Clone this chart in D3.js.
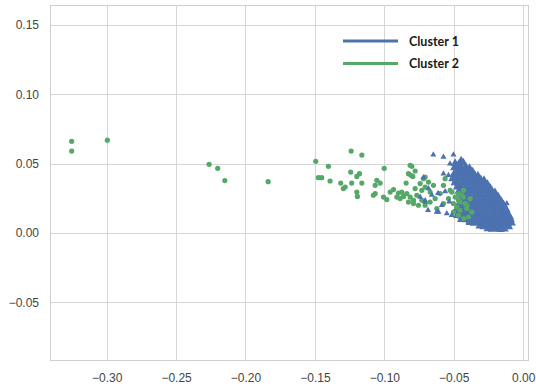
<!DOCTYPE html>
<html><head><meta charset="utf-8">
<script src="https://cdn.jsdelivr.net/npm/d3@7"></script>
<style>html,body{margin:0;padding:0;background:#fff;}svg{display:block;}</style>
</head><body>
<svg id="chart" width="536" height="387"></svg>
<script>
// ---- data ----
const xTicks = [-0.30, -0.25, -0.20, -0.15, -0.10, -0.05, 0.00];
const yTicks = [-0.05, 0.00, 0.05, 0.10, 0.15];
const xDomain = [-0.3408, 0.0042];
const yDomain = [-0.0923, 0.1644];
const seriesNames = ["Cluster 1", "Cluster 2"];
const seriesColors = ["#4c72b0", "#55a868"];

// Cluster 1 (blue triangles) – dense core
const cluster1Core = [
[-0.0490,0.0502],[-0.0462,0.0497],[-0.0431,0.0505],[-0.0447,0.0521],
[-0.0495,0.0471],[-0.0468,0.0478],[-0.0441,0.0469],[-0.0412,0.0474],[-0.0386,0.0466],
[-0.0478,0.0448],[-0.0452,0.0443],[-0.0423,0.0451],[-0.0395,0.0446],[-0.0364,0.0441],
[-0.0501,0.0420],[-0.0472,0.0416],[-0.0443,0.0424],[-0.0414,0.0418],[-0.0385,0.0421],[-0.0352,0.0415],[-0.0326,0.0412],
[-0.0508,0.0392],[-0.0481,0.0388],[-0.0453,0.0395],[-0.0424,0.0389],[-0.0396,0.0393],[-0.0363,0.0386],[-0.0334,0.0391],[-0.0305,0.0384],[-0.0282,0.0379],
[-0.0492,0.0362],[-0.0465,0.0357],[-0.0433,0.0364],[-0.0404,0.0359],[-0.0372,0.0362],[-0.0343,0.0356],[-0.0314,0.0361],[-0.0285,0.0354],[-0.0257,0.0350],
[-0.0474,0.0332],[-0.0446,0.0327],[-0.0415,0.0334],[-0.0384,0.0329],[-0.0353,0.0333],[-0.0322,0.0326],[-0.0294,0.0331],[-0.0263,0.0325],[-0.0236,0.0321],
[-0.0463,0.0302],[-0.0432,0.0298],[-0.0401,0.0304],[-0.0372,0.0297],[-0.0341,0.0303],[-0.0313,0.0296],[-0.0282,0.0301],[-0.0253,0.0295],[-0.0224,0.0298],[-0.0203,0.0291],
[-0.0444,0.0272],[-0.0413,0.0267],[-0.0384,0.0274],[-0.0352,0.0268],[-0.0323,0.0273],[-0.0294,0.0266],[-0.0262,0.0271],[-0.0233,0.0265],[-0.0204,0.0269],[-0.0181,0.0262],
[-0.0442,0.0243],[-0.0411,0.0238],[-0.0382,0.0244],[-0.0351,0.0237],[-0.0322,0.0242],[-0.0291,0.0236],[-0.0263,0.0241],[-0.0232,0.0235],[-0.0201,0.0239],[-0.0173,0.0233],[-0.0158,0.0228],
[-0.0461,0.0212],[-0.0432,0.0207],[-0.0403,0.0214],[-0.0371,0.0208],[-0.0342,0.0213],[-0.0313,0.0206],[-0.0281,0.0211],[-0.0252,0.0205],[-0.0222,0.0210],[-0.0193,0.0204],[-0.0164,0.0209],[-0.0141,0.0202],
[-0.0472,0.0182],[-0.0443,0.0177],[-0.0412,0.0184],[-0.0383,0.0178],[-0.0354,0.0183],[-0.0322,0.0176],[-0.0293,0.0181],[-0.0264,0.0175],[-0.0233,0.0180],[-0.0204,0.0174],[-0.0172,0.0179],[-0.0145,0.0173],[-0.0123,0.0170],
[-0.0491,0.0152],[-0.0462,0.0147],[-0.0431,0.0154],[-0.0402,0.0148],[-0.0373,0.0153],[-0.0341,0.0146],[-0.0312,0.0151],[-0.0283,0.0145],[-0.0251,0.0150],[-0.0222,0.0144],[-0.0193,0.0149],[-0.0162,0.0143],[-0.0134,0.0148],[-0.0112,0.0141],
[-0.0473,0.0126],[-0.0444,0.0121],[-0.0413,0.0128],[-0.0382,0.0122],[-0.0353,0.0127],[-0.0324,0.0120],[-0.0292,0.0125],[-0.0263,0.0119],[-0.0232,0.0124],[-0.0203,0.0118],[-0.0171,0.0123],[-0.0142,0.0117],[-0.0114,0.0122],[-0.0096,0.0115],
[-0.0442,0.0101],[-0.0413,0.0096],[-0.0384,0.0103],[-0.0352,0.0097],[-0.0323,0.0102],[-0.0294,0.0095],[-0.0262,0.0100],[-0.0233,0.0094],[-0.0204,0.0099],[-0.0172,0.0093],[-0.0143,0.0098],[-0.0114,0.0092],[-0.0091,0.0096],
[-0.0383,0.0076],[-0.0352,0.0071],[-0.0321,0.0078],[-0.0292,0.0072],[-0.0263,0.0077],[-0.0231,0.0070],[-0.0202,0.0075],[-0.0173,0.0069],[-0.0141,0.0074],[-0.0112,0.0068],[-0.0084,0.0072],
[-0.0312,0.0051],[-0.0283,0.0046],[-0.0251,0.0052],[-0.0222,0.0047],[-0.0193,0.0051],[-0.0162,0.0045],[-0.0133,0.0050],[-0.0104,0.0046],
[-0.0254,0.0031],[-0.0223,0.0027],[-0.0192,0.0032],[-0.0164,0.0026],[-0.0135,0.0030]
];

// Cluster 1 – scattered triangles around the core
const cluster1Sparse = [
[-0.0647,0.0565],[-0.0574,0.0548],[-0.0502,0.0565],[-0.0527,0.0500],
[-0.0574,0.0428],[-0.0538,0.0416],[-0.0685,0.0164],[-0.0622,0.0151],
[-0.0550,0.0140],[-0.0586,0.0200],[-0.0706,0.0223],[-0.0613,0.0286],
[-0.0742,0.0260],[-0.0718,0.0400],[-0.0682,0.0320],[-0.0706,0.0235],
[-0.0658,0.0274],[-0.0610,0.0151],[-0.0514,0.0128],[-0.0454,0.0092],
[-0.0394,0.0080],[-0.0118,0.0212],[-0.0130,0.0176],[-0.0346,0.0421],
[-0.0298,0.0367],[-0.0562,0.0300],[-0.0532,0.0225]
];

// Cluster 2 (green circles)
const cluster2 = [
[-0.3252,0.0661],[-0.3252,0.0591],[-0.2995,0.0669],[-0.2262,0.0495],[-0.2200,0.0466],
[-0.2149,0.0378],[-0.1837,0.0370],[-0.1494,0.0517],[-0.1475,0.0399],[-0.1451,0.0399],
[-0.1403,0.0481],[-0.1391,0.0375],[-0.1314,0.0360],[-0.1282,0.0331],[-0.1295,0.0320],
[-0.1239,0.0591],[-0.1162,0.0562],[-0.1242,0.0439],[-0.1179,0.0428],[-0.1198,0.0408],
[-0.1235,0.0360],[-0.1162,0.0360],[-0.1198,0.0295],[-0.1194,0.0264],[-0.1079,0.0272],
[-0.1054,0.0380],[-0.1030,0.0360],[-0.1066,0.0344],[-0.1006,0.0259],[-0.0982,0.0241],
[-0.0958,0.0295],[-0.0934,0.0313],[-0.1001,0.0466],[-0.0814,0.0488],[-0.0843,0.0360],
[-0.0826,0.0428],[-0.0809,0.0416],[-0.0898,0.0288],[-0.0874,0.0295],[-0.0910,0.0259],
[-0.0886,0.0248],[-0.0862,0.0264],[-0.0838,0.0284],[-0.0814,0.0259],[-0.0790,0.0236],
[-0.0826,0.0223],[-0.1066,0.0284],[-0.0795,0.0408],[-0.0778,0.0447],[-0.0802,0.0481],
[-0.0742,0.0356],[-0.0730,0.0308],[-0.0718,0.0392],[-0.0766,0.0272],[-0.0730,0.0236],
[-0.0706,0.0331],[-0.0790,0.0212],[-0.0754,0.0200],[-0.0778,0.0320],[-0.0706,0.0403],
[-0.0682,0.0367],[-0.0706,0.0200],[-0.0670,0.0223],[-0.0634,0.0248],[-0.0622,0.0176],
[-0.0574,0.0212],[-0.0598,0.0284],[-0.0646,0.0344],[-0.0670,0.0295],[-0.0574,0.0344],
[-0.0538,0.0248],[-0.0562,0.0392],[-0.0526,0.0308],[-0.0502,0.0212],[-0.0454,0.0223],
[-0.0430,0.0259],[-0.0466,0.0284],[-0.0406,0.0200],[-0.0382,0.0248],[-0.0514,0.0295],
[-0.0490,0.0259],[-0.0466,0.0236],[-0.0442,0.0272],[-0.0418,0.0212],[-0.0406,0.0176],
[-0.0454,0.0164],[-0.0478,0.0187],[-0.0502,0.0151],[-0.0430,0.0308],[-0.0370,0.0151],
[-0.0394,0.0115],[-0.0430,0.0104],[-0.0466,0.0128]
];

// ---- drawing ----
const svg = d3.select("#chart");
const L = 50, R = 529, T = 5, B = 361;
const x = d3.scaleLinear().domain(xDomain).range([L, R]);
const y = d3.scaleLinear().domain(yDomain).range([B, T]);
const fmt = d3.format(".2f");
const gridColor = "#d6d6d6";
const textColor = "#444444";
const px = v => Math.round(v) + 0.5;

// grid
const grid = svg.append("g");
grid.selectAll(".gx").data(xTicks).enter().append("line")
  .attr("x1", d => px(x(d))).attr("x2", d => px(x(d)))
  .attr("y1", T).attr("y2", B)
  .attr("stroke", gridColor).attr("stroke-width", 1);
grid.selectAll(".gy").data(yTicks).enter().append("line")
  .attr("y1", d => px(y(d))).attr("y2", d => px(y(d)))
  .attr("x1", L).attr("x2", R)
  .attr("stroke", gridColor).attr("stroke-width", 1);

// frame
svg.append("rect").attr("x", L + 0.5).attr("y", T + 0.5)
  .attr("width", R - L - 1).attr("height", B - T - 1)
  .attr("fill", "none").attr("stroke", "#cfcfcf").attr("stroke-width", 1);

// axes via d3 axis generators (labels only)
const xAxis = d3.axisBottom(x).tickValues(xTicks).tickFormat(fmt).tickSize(0).tickPadding(12);
const yAxis = d3.axisLeft(y).tickValues(yTicks).tickFormat(fmt).tickSize(0).tickPadding(11);
const gx = svg.append("g").attr("transform", `translate(0,${B})`).call(xAxis);
const gy = svg.append("g").attr("transform", `translate(${L},0)`).call(yAxis);
[gx, gy].forEach(g => {
  g.select(".domain").remove();
  g.selectAll("text").attr("font-family", "Liberation Sans, Arial, sans-serif")
    .attr("font-size", 12).attr("fill", textColor);
});

// points
const triCore = d3.symbol().type(d3.symbolTriangle).size(34);
const triSparse = d3.symbol().type(d3.symbolTriangle).size(16);
const drawTri = (data, sym) => svg.append("g").selectAll("path").data(data).enter().append("path")
  .attr("d", sym)
  .attr("transform", d => `translate(${x(d[0])},${y(d[1])})`)
  .attr("fill", seriesColors[0]);

drawTri(cluster1Core, triCore);
svg.append("g").selectAll("circle").data(cluster2).enter().append("circle")
  .attr("cx", d => x(d[0])).attr("cy", d => y(d[1])).attr("r", 2.6)
  .attr("fill", seriesColors[1]);
drawTri(cluster1Sparse, triSparse);

// legend
const legend = svg.append("g");
const legY = [41, 63.5];
seriesNames.forEach((name, i) => {
  legend.append("line").attr("x1", 343).attr("x2", 398)
    .attr("y1", legY[i]).attr("y2", legY[i])
    .attr("stroke", seriesColors[i]).attr("stroke-width", 3.2);
  legend.append("text").attr("x", 409).attr("y", legY[i])
    .attr("dy", "0.36em")
    .attr("font-family", "Lato, 'Open Sans', sans-serif").attr("font-weight", "bold")
    .attr("font-size", 12.5).attr("fill", "#1a1a1a").text(name);
});
</script>
</body></html>
